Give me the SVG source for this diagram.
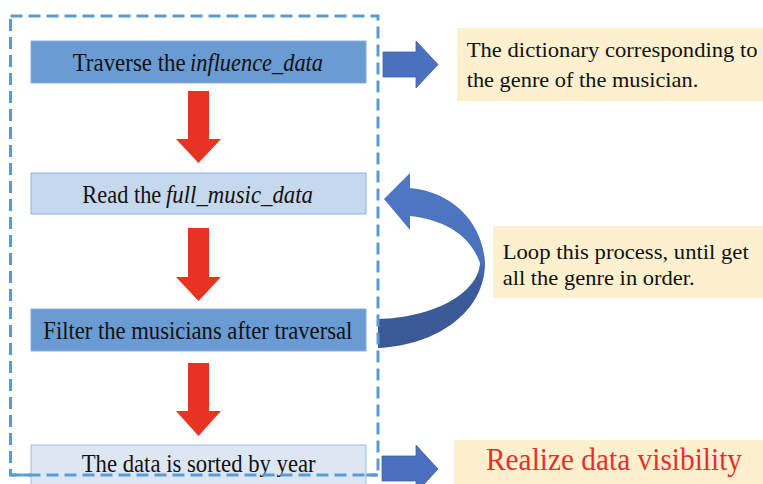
<svg xmlns="http://www.w3.org/2000/svg" width="763" height="484" viewBox="0 0 763 484">
<defs>
<style>
.t{font-family:"Liberation Serif","Times New Roman",serif;fill:#111;}
.i{font-style:italic;}
.step{stroke-width:1;}
.dark{fill:#6a9bd3;stroke:#86aedb;}
.light{fill:#c5d8ee;stroke:#8fb2dd;}
.pale{fill:#dde7f3;stroke:#9dbbe0;}
.note{fill:#fcf0cf;}
.red{fill:#e83323;}
.blue{fill:#4a70bf;stroke:#3e62a8;stroke-width:0.8;}
.frame{fill:none;stroke:#5b9bd5;stroke-width:3;stroke-dasharray:12 6;}
</style>
<linearGradient id="loopg" x1="0" y1="0" x2="0" y2="1">
<stop offset="0" stop-color="#4f78c6"/>
<stop offset="0.5" stop-color="#4a71bb"/>
<stop offset="0.62" stop-color="#3d5b9c"/>
<stop offset="1" stop-color="#3b5896"/>
</linearGradient>
</defs>
<rect width="763" height="484" fill="#ffffff"/>

<g id="connectors">
<polygon class="red" points="188,91 209,91 209,139 221,139 198.5,163 176,139 188,139"/>
<polygon class="red" points="188,228 209,228 209,277 221,277 198.5,301 176,277 188,277"/>
<polygon class="red" points="188,363 209,363 209,411 221,411 198.5,436 176,411 188,411"/>
<polygon class="blue" points="383,52 416,52 416,41 438,64.5 416,88 416,77 383,77"/>
<polygon class="blue" points="382,456 416,456 416,445 438,469 416,493 416,481 382,481"/>
<path fill="url(#loopg)" d="M384,199 L410,173 L410,188 C455,192 483,225 485,263 C485,310 440,345 378,348 L378,319 C430,318 478,295 480,263 C470,235 445,220 410,216 L410,230 Z"/>
</g>

<g id="frame">
<rect class="frame" x="10.5" y="16" width="367.5" height="459"/>
</g>

<g id="step1">
<rect class="step dark" x="31" y="41" width="335" height="42"/>
<text class="t" x="72.7" y="70.7" font-size="26" textLength="113" lengthAdjust="spacingAndGlyphs">Traverse the</text>
<text class="t i" x="190" y="70.7" font-size="26" textLength="133" lengthAdjust="spacingAndGlyphs">influence_data</text>
</g>
<g id="step2">
<rect class="step light" x="31" y="173" width="335" height="41"/>
<text class="t" x="82.3" y="202.7" font-size="26" textLength="79" lengthAdjust="spacingAndGlyphs">Read the</text>
<text class="t i" x="166" y="202.7" font-size="26" textLength="147" lengthAdjust="spacingAndGlyphs">full_music_data</text>
</g>
<g id="step3">
<rect class="step dark" x="31" y="309" width="335" height="42"/>
<text class="t" x="43.3" y="339" font-size="26" textLength="309" lengthAdjust="spacingAndGlyphs">Filter the musicians after traversal</text>
</g>
<g id="step4">
<rect class="step pale" x="31" y="445" width="335" height="45"/>
<text class="t" x="81.7" y="471.7" font-size="25" textLength="234" lengthAdjust="spacingAndGlyphs">The data is sorted by year</text>
</g>
<g id="frame-bottom">
<line class="frame" x1="10.5" y1="475" x2="378" y2="475"/>
</g>

<g id="note1">
<rect class="note" x="457" y="28" width="306" height="73"/>
<text class="t" x="466.7" y="57.3" font-size="22" textLength="291" lengthAdjust="spacingAndGlyphs">The dictionary corresponding to</text>
<text class="t" x="466.7" y="86.5" font-size="22" textLength="231.6" lengthAdjust="spacingAndGlyphs">the genre of the musician.</text>
</g>
<g id="note2">
<rect class="note" x="493" y="226" width="270" height="72"/>
<text class="t" x="502.7" y="259" font-size="22" textLength="246" lengthAdjust="spacingAndGlyphs">Loop this process, until get</text>
<text class="t" x="502.7" y="285" font-size="22" textLength="192" lengthAdjust="spacingAndGlyphs">all the genre in order.</text>
</g>
<g id="note3">
<rect class="note" x="454" y="440" width="309" height="50"/>
<text class="t" x="486" y="470" font-size="31" style="fill:#e8302a" textLength="256" lengthAdjust="spacingAndGlyphs">Realize data visibility</text>
</g>
</svg>
